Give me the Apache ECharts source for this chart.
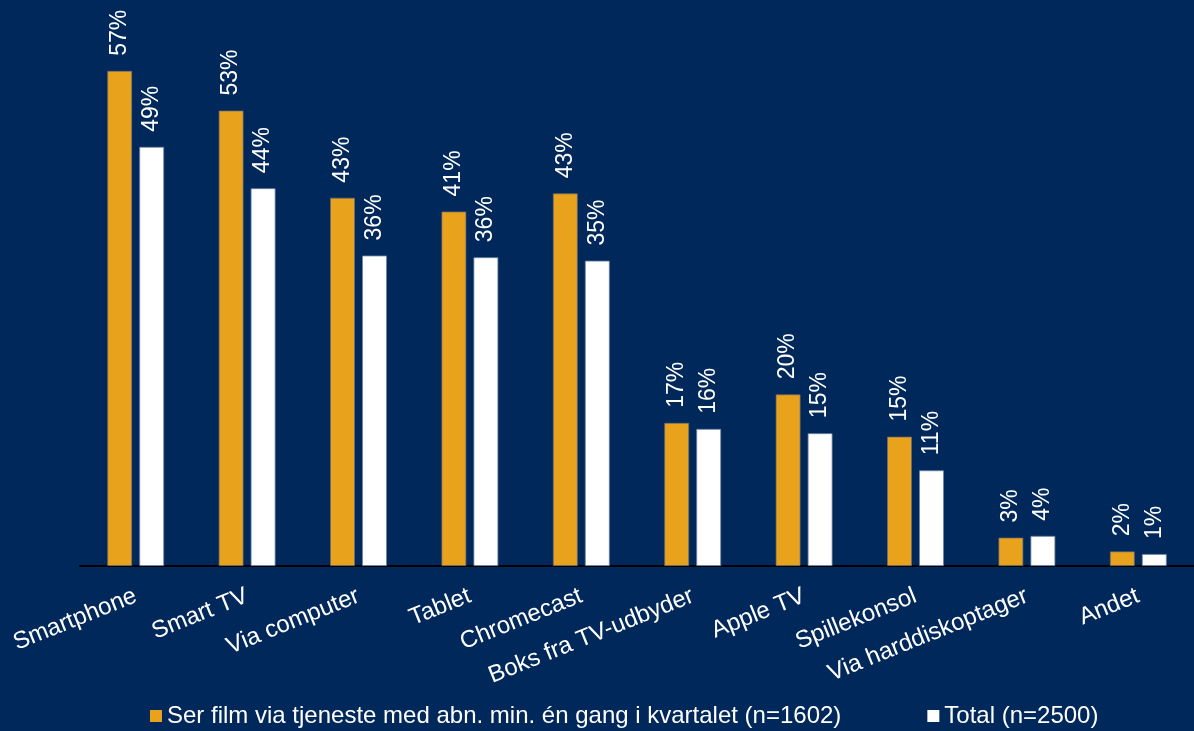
<!DOCTYPE html>
<html>
<head>
<meta charset="utf-8">
<script src="https://cdn.jsdelivr.net/npm/echarts@6/dist/echarts.min.js"></script>
<style>
html,body{margin:0;padding:0;background:#00285a;}
#c{width:1194px;height:731px;}
</style>
</head>
<body>
<div id="c"></div>
<script>
const categories = ['Smartphone','Smart TV','Via computer','Tablet','Chromecast','Boks fra TV-udbyder','Apple TV','Spillekonsol','Via harddiskoptager','Andet'];
const seriesNames = ['Ser film via tjeneste med abn. min. én gang i kvartalet (n=1602)','Total (n=2500)'];
const streamers = [57.4, 52.8, 42.7, 41.1, 43.2, 16.6, 19.9, 15.0, 3.3, 1.7];
const total = [48.6, 43.8, 36.0, 35.8, 35.4, 15.9, 15.4, 11.1, 3.5, 1.4];

const chart = echarts.init(document.getElementById('c'));
const font = 'Liberation Sans, Arial, sans-serif';
const lbl = {
  show: true, position: 'top', rotate: 90, align: 'left', verticalAlign: 'middle',
  distance: 15, color: '#ffffff', fontSize: 23, fontFamily: font,
  formatter: p => Math.round(p.value) + '%'
};
chart.setOption({
  backgroundColor: '#00285a',
  animation: false,
  grid: {left: 80, right: 0, top: 51, bottom: 165},
  legend: {
    top: 699, left: 145, itemWidth: 12, itemHeight: 12, itemGap: 86,
    icon: 'rect',
    itemStyle: {borderWidth: 0},
    textStyle: {color: '#ffffff', fontSize: 24, fontFamily: font},
    data: seriesNames
  },
  xAxis: {
    type: 'category', data: categories,
    axisLine: {lineStyle: {color: '#000000', width: 2}},
    axisTick: {show: false},
    axisLabel: {color: '#ffffff', fontSize: 24, fontFamily: font, rotate: 22, margin: 29, interval: 0}
  },
  yAxis: {type: 'value', min: 0, max: 59.7, show: false, splitLine: {show: false}},
  series: [
    {name: seriesNames[0], type: 'bar', data: streamers, barWidth: 25, barGap: '28%',
     itemStyle: {color: '#e9a21b', borderColor: 'rgba(110,110,120,0.7)', borderWidth: 1}, label: lbl},
    {name: seriesNames[1], type: 'bar', data: total, barWidth: 25,
     itemStyle: {color: '#ffffff', borderColor: 'rgba(110,130,160,0.8)', borderWidth: 1}, label: lbl}
  ]
});
</script>
</body>
</html>
